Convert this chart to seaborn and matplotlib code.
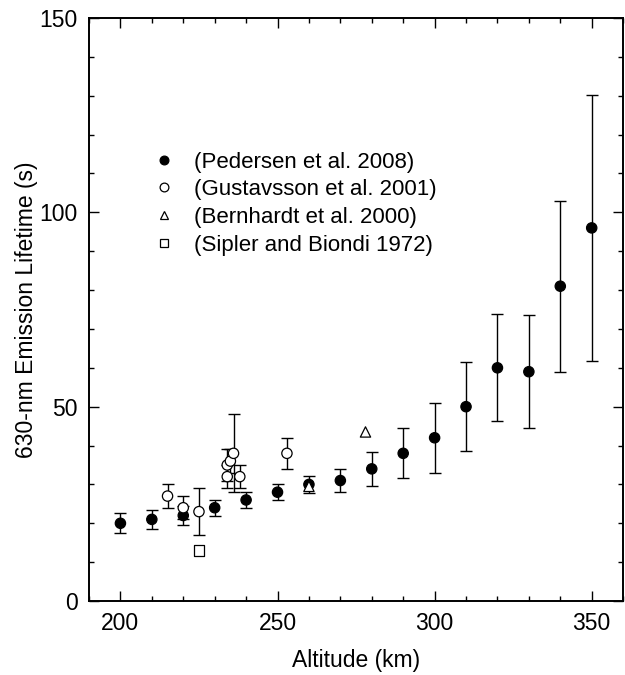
import numpy as np
import pandas as pd
import seaborn as sns
import matplotlib
matplotlib.use('Agg')
from matplotlib import pyplot as plt
from matplotlib.ticker import MultipleLocator

# Pedersen et al. 2008
ped_alt = [200, 210, 220, 230, 240, 250, 260, 270, 280, 290, 300, 310, 320, 330, 340, 350]
ped_val = [20, 21, 22, 24, 26, 28, 30, 31, 34, 38, 42, 50, 60, 59, 81, 96]
ped_err = [2.6, 2.5, 2.5, 2, 2, 2, 2.2, 3, 4.3, 6.4, 9, 11.5, 13.8, 14.5, 22, 34.3]

# Gustavsson et al. 2001
gus_alt = [215, 220, 225, 234, 234, 235, 236, 238, 253]
gus_val = [27, 24, 23, 35, 32, 36, 38, 32, 38]
gus_err = [3, 3, 6, 4, 3, 3, 10, 3, 4]

# Bernhardt et al. 2000
ber_alt = [260, 278]
ber_val = [29.5, 43.5]

# Sipler and Biondi 1972
sip_alt = [225]
sip_val = [13]

labels = ['(Pedersen et al. 2008)', '(Gustavsson et al. 2001)',
          '(Bernhardt et al. 2000)', '(Sipler and Biondi 1972)']

df = pd.concat([
    pd.DataFrame({'alt': ped_alt, 'val': ped_val, 'src': labels[0]}),
    pd.DataFrame({'alt': gus_alt, 'val': gus_val, 'src': labels[1]}),
    pd.DataFrame({'alt': ber_alt, 'val': ber_val, 'src': labels[2]}),
    pd.DataFrame({'alt': sip_alt, 'val': sip_val, 'src': labels[3]}),
], ignore_index=True)

sns.set_style('ticks')
plt.rcParams['font.family'] = ['Liberation Sans', 'DejaVu Sans']
plt.rcParams.update({'text.color': 'black', 'axes.labelcolor': 'black',
                     'xtick.color': 'black', 'ytick.color': 'black',
                     'axes.edgecolor': 'black'})

fig = plt.figure(figsize=(6.25, 6.75), dpi=100)
ax = fig.add_axes([0.1424, 0.1096, 0.8546, 0.8637])

ax.errorbar(ped_alt, ped_val, yerr=ped_err, fmt='none', ecolor='black',
            elinewidth=1, capsize=4.5, capthick=1, zorder=1)
ax.errorbar(gus_alt, gus_val, yerr=gus_err, fmt='none', ecolor='black',
            elinewidth=1, capsize=4.5, capthick=1, zorder=1)

sns.scatterplot(data=df, x='alt', y='val', hue='src', style='src', ax=ax,
                palette={labels[0]: 'black', labels[1]: 'white',
                         labels[2]: 'white', labels[3]: 'white'},
                markers={labels[0]: 'o', labels[1]: 'o',
                         labels[2]: '^', labels[3]: 's'},
                s=55, edgecolor='black', linewidth=0.9, zorder=3)

ax.set_xlim(190, 360)
ax.set_ylim(0, 150)
ax.xaxis.set_major_locator(MultipleLocator(50))
ax.xaxis.set_minor_locator(MultipleLocator(10))
ax.yaxis.set_major_locator(MultipleLocator(50))
ax.yaxis.set_minor_locator(MultipleLocator(10))
ax.tick_params(which='both', direction='in', top=True, right=True,
               labelsize=16.5, width=1, pad=8, colors='black')
ax.tick_params(which='major', length=7)
ax.tick_params(which='minor', length=3.5)
for sp in ax.spines.values():
    sp.set_linewidth(1.4)
    sp.set_color('black')

ax.set_xlabel('Altitude (km)', fontsize=16.5, labelpad=10)
ax.set_ylabel('630-nm Emission Lifetime (s)', fontsize=16.5, labelpad=1)

sns.move_legend(ax, 'upper left', bbox_to_anchor=(0.095, 0.79), frameon=False,
                title=None, fontsize=16, markerscale=0.85, handletextpad=0.75,
                labelspacing=0.3, borderpad=0, handlelength=1.2)

fig.savefig('out.png', dpi=100)
